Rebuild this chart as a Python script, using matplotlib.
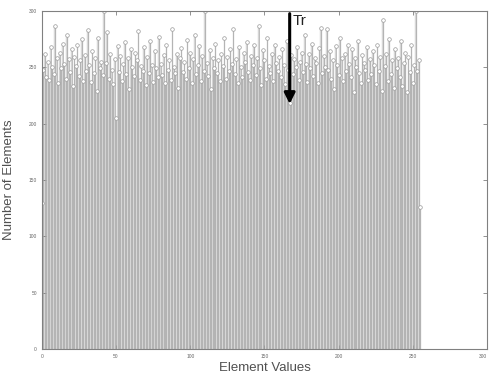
import matplotlib
matplotlib.use('Agg')
import matplotlib.pyplot as plt
import numpy as np
from matplotlib import rcParams

rcParams['font.family'] = 'Liberation Sans'
rcParams['xtick.direction'] = 'in'
rcParams['ytick.direction'] = 'in'
rcParams['axes.linewidth'] = 0.8

# histogram counts for element values 0..255
counts = [
    130, 248, 262, 241, 255, 239, 268, 250, 244, 287, 258, 236, 263, 249, 271, 253,
    240, 279, 257, 246, 266, 233, 259, 251, 270, 242, 256, 275, 238, 261, 247, 283,
    252, 237, 264, 245, 258, 229, 276, 249, 255, 243, 300, 254, 281, 240, 262, 248,
    235, 257, 205, 269, 246, 260, 238, 253, 272, 244, 258, 231, 266, 250, 242, 263,
    256, 282, 239, 251, 247, 268, 234, 259, 245, 273, 252, 237, 264, 249, 241, 277,
    253, 243, 261, 236, 270, 248, 256, 239, 284, 250, 245, 262, 232, 258, 267, 246,
    255, 240, 274, 249, 263, 236, 257, 279, 244, 252, 269, 238, 260, 247, 300, 254,
    242, 265, 231, 258, 249, 271, 245, 256, 238, 262, 251, 276, 240, 259, 247, 266,
    253, 284, 244, 257, 236, 268, 250, 241, 263, 255, 272, 246, 239, 260, 252, 270,
    243, 258, 287, 249, 234, 265, 256, 240, 276, 251, 245, 262, 238, 270, 254, 247,
    259, 241, 266, 252, 235, 273, 248, 218, 261, 244, 257, 250, 268, 239, 255, 263,
    246, 279, 253, 237, 262, 249, 271, 242, 258, 254, 236, 267, 285, 245, 260, 250,
    284, 248, 264, 240, 256, 231, 269, 252, 243, 276, 258, 238, 262, 247, 270, 253,
    241, 266, 228, 258, 250, 273, 245, 236, 261, 254, 248, 268, 239, 257, 244, 264,
    252, 235, 270, 247, 259, 229, 292, 251, 262, 238, 275, 244, 256, 232, 266, 249,
    258, 241, 273, 233, 254, 263, 228, 259, 246, 270, 236, 252, 300, 247, 256, 126,
]
values = np.arange(len(counts))
ticks = [0, 50, 100, 150, 200, 250, 300]

fig = plt.figure(figsize=(4.92, 3.75), dpi=100)
ax = fig.add_axes([0.085, 0.069, 0.905, 0.902])

ax.bar(values, counts, width=1.0, color='#dadada', edgecolor='#d0d0d0',
       linewidth=0.3, zorder=1)
markerline, stemlines, baseline = ax.stem(values, counts, basefmt=' ')
plt.setp(stemlines, color='#a6a6a6', linewidth=0.5)
plt.setp(markerline, marker='o', markersize=2.6, markerfacecolor='white',
         markeredgecolor='#9a9a9a', markeredgewidth=0.5)

ax.set_xlim(0, 300)
ax.set_ylim(0, 300)
ax.set_xticks(ticks)
ax.set_yticks(ticks)
ax.tick_params(labelsize=3.5, colors='#666666', length=3, width=0.5,
               top=True, right=True)
ax.get_xticklabels()[-1].set_horizontalalignment('right')
for s in ax.spines.values():
    s.set_color('#808080')

ax.set_xlabel('Element Values', fontsize=9.5, color='#505050', labelpad=2)
ax.set_ylabel('Number of Elements', fontsize=9.5, color='#505050', labelpad=10)

# threshold arrow
ax.annotate('', xy=(167, 215), xytext=(167, 300),
            arrowprops=dict(arrowstyle='-|>', color='black', lw=2.2,
                            mutation_scale=16))
ax.text(169, 297, 'Tr', fontsize=11, color='#222222', va='top', ha='left')

fig.savefig('out.png', dpi=100)
